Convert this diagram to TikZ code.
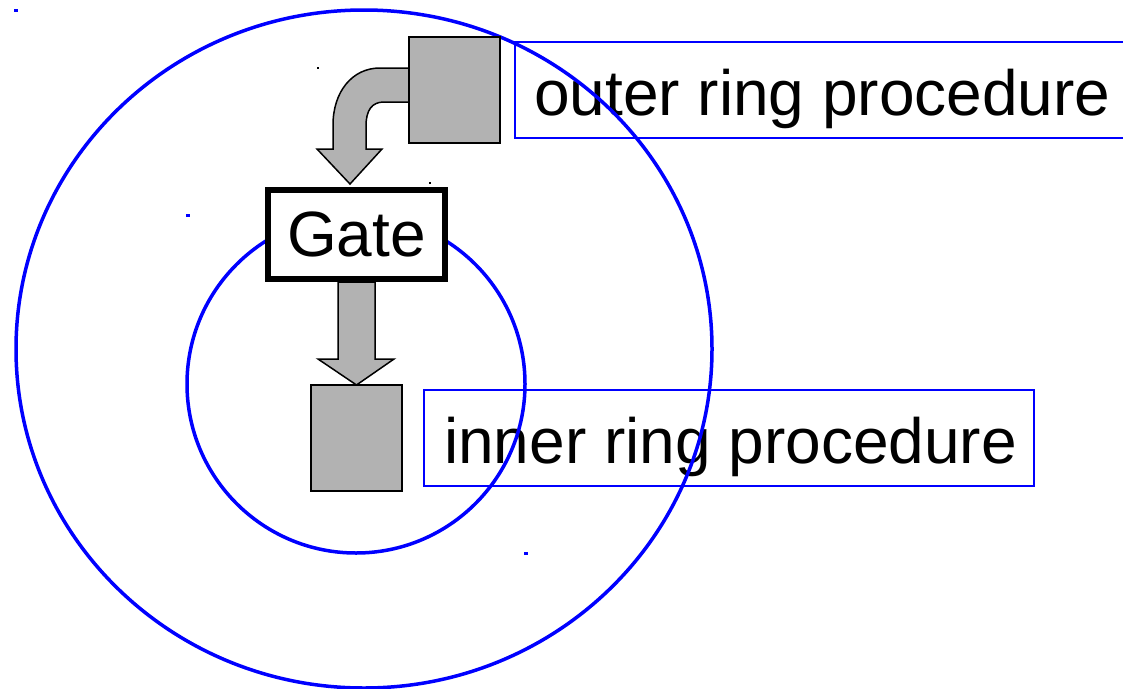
\documentclass[tikz,border=0pt]{standalone}
\usepackage{fontspec}
\setmainfont{Liberation Sans}
\usetikzlibrary{calc,shapes.geometric}
\begin{document}
\begin{tikzpicture}[x=1pt,y=-1pt,
  ring/.style={draw=blue, line width=3.5pt},
  labelbox/.style={draw=blue, line width=1.5pt, inner sep=0pt, outer sep=0pt,
                   minimum width=610pt, minimum height=96pt},
  labeltext/.style={anchor=base west, inner sep=0pt, font=\fontsize{64}{70}\selectfont},
  greybox/.style={draw=black, fill=gray!60, line width=1.5pt, inner sep=0pt, outer sep=0pt,
                  minimum width=91pt, minimum height=106pt},
  gatebox/.style={draw=black, fill=white, line width=6pt, inner sep=0pt, outer sep=0pt,
                  minimum width=177pt, minimum height=89pt, font=\fontsize{64}{70}\selectfont},
  blockarrow/.style={draw=black, fill=gray!60, line width=1.5pt, line join=miter},
  speck/.style={inner sep=0pt, minimum width=4pt, minimum height=3pt}
]
\useasboundingbox (0,0) rectangle (1123,688);

% captions
\node[labelbox] (outlbl) at (820,90) {};
\node[labeltext] (outtxt) at ($(outlbl.west)+(19,25)$) {outer ring procedure};
\node[labelbox] (inlbl) at (729,438) {};
\node[labeltext] (intxt) at ($(inlbl.west)+(20,25)$) {inner ring procedure};

% protection rings
\node[ring, ellipse, inner sep=0pt, minimum width=696pt, minimum height=678pt] (outring) at (364,349) {};
\node[ring, circle, inner sep=0pt, minimum size=338pt] (inring) at (356,384) {};

% procedures and gate
\coordinate (outbox-c) at (454.5,90);
\coordinate (gate-c) at (356.5,234.5);
\coordinate (inbox-c) at (356.5,438);

% call from the outer procedure into the gate
\draw[blockarrow] ($(outbox-c)+(-45.5,-22)$) -- (380,68)
  .. controls (352,68) and (333,92) .. (333,125) -- (333,149) -- (317,149)
  -- (350,184) -- (382,149) -- (366,149) -- (366,126)
  .. controls (366,110) and (372,102) .. (384,102)
  -- ($(outbox-c)+(-45.5,12)$) -- cycle;

% transfer from the gate to the inner procedure
\draw[blockarrow] (338,282) -- (338,359) -- (318,359) -- ($(inbox-c)+(0,-53)$)
  -- (394,359) -- (375,359) -- (375,282) -- cycle;

\node[gatebox] (gate) at (gate-c) {\raisebox{-3pt}{Gate}};
\node[greybox] (outbox) at (outbox-c) {};
\node[greybox] (inbox) at (inbox-c) {};

% stray specks
\node[speck, fill=blue] (s1) at (16,10) {};
\node[speck, fill=blue] (s2) at (188,215) {};
\node[speck, fill=blue] (s3) at (526,553) {};
\node[speck, fill=black, minimum width=2pt, minimum height=2pt] (s4) at (318,68) {};
\node[speck, fill=black, minimum width=2pt, minimum height=2pt] (s5) at (430,183) {};
\end{tikzpicture}
\end{document}
